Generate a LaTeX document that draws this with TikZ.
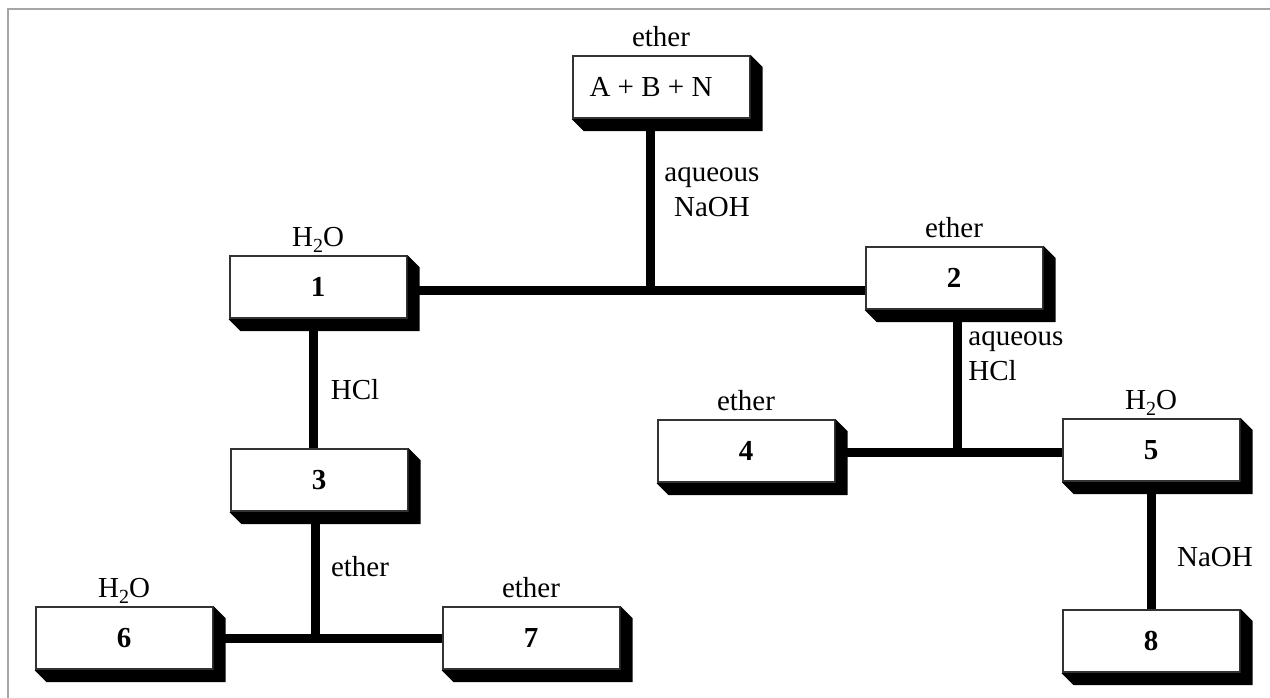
\documentclass[tikz,border=0pt]{standalone}
\usepackage{fontspec}
\setmainfont{Liberation Serif}
\usepackage{tikz}
\usetikzlibrary{positioning, calc}
\newcommand{\chemsize}{\fontsize{14.5}{17.5}\selectfont}
\newcommand{\water}{H\raisebox{-0.45ex}{\fontsize{10}{12}\selectfont 2}O}
\tikzstyle{flask} = [rectangle, minimum width=88.5pt, minimum height=31pt, text centered, draw=black!80, line width=1pt, fill=white, font=\chemsize\bfseries]
\tikzstyle{phase} = [inner sep=0pt, text depth=0pt, font=\chemsize]
\tikzstyle{reagent} = [inner sep=0pt, align=center, font=\chemsize]
\tikzstyle{bond} = [line width=4.5pt]

\begin{document}
\begin{tikzpicture}[x=0.5pt, y=-0.5pt, label distance=4pt]
            \useasboundingbox (0,0) rectangle (1270,697);
            \clip (0,0) rectangle (1270,697);
            \draw [gray!70, line width=1pt] (8,9) rectangle (1300,730);

            % Starting mixture
            \node (abn) [flask, font=\chemsize, label={[phase]above:ether}] at (661,87) {A + B + N\rule{10pt}{0pt}};

            % First extraction
            \node (c1) [flask, label={[phase]above:\water}] at (318,287) {1};
            \node (c2) [flask, label={[phase]above:ether}] at (954,278) {2};

            % Second layer
            \node (c3) [flask] at (319,480) {3};
            \node (c4) [flask, label={[phase]above:ether}] at (746,451) {4};
            \node (c5) [flask, label={[phase]above:\water}] at (1151,450) {5};

            % Bottom layer
            \node (c6) [flask, label={[phase]above:\water}] at (124,638) {6};
            \node (c7) [flask, label={[phase]above:ether}] at (531,638) {7};
            \node (c8) [flask] at (1151,641) {8};

            % Shadows
            \foreach \n in {abn,c1,c2,c3,c4,c5,c6,c7,c8}
                \fill (\n.north east) -- ++(12,12) -- ($(\n.south east)+(12,12)$) -- ($(\n.south west)+(12,12)$) -- (\n.south west) -- (\n.south east) -- cycle;

            % Junctions
            \coordinate (jn1) at (650,290);
            \coordinate (jn2) at (957,452);
            \coordinate (jn3) at (315,638);
            \coordinate (jn4) at (313,390);

            % Connectors
            \draw [bond] (abn.south -| jn1) -- (jn1);
            \draw [bond] (c1.east |- jn1) -- (c2.west |- jn1);
            \draw [bond] (c1.south -| jn4) -- (c3.north -| jn4);
            \draw [bond] (c2.south -| jn2) -- (jn2);
            \draw [bond] (c4.east |- jn2) -- (c5.west |- jn2);
            \draw [bond] (c3.south -| jn3) -- (jn3);
            \draw [bond] (c6.east |- jn3) -- (c7.west |- jn3);
            \draw [bond] (c5.south) -- (c8.north);

            % Reagents
            \node (naoh1) [reagent] at (712,192) {aqueous\\NaOH};
            \node (hcl1) [reagent] at (355,390) {HCl};
            \node (hcl2) [reagent, anchor=west, align=left] at (968,356) {aqueous\\HCl};
            \node (eth) [reagent] at (360,567) {ether};
            \node (naoh2) [reagent] at (1215,557) {NaOH};
        \end{tikzpicture}
\end{document}
